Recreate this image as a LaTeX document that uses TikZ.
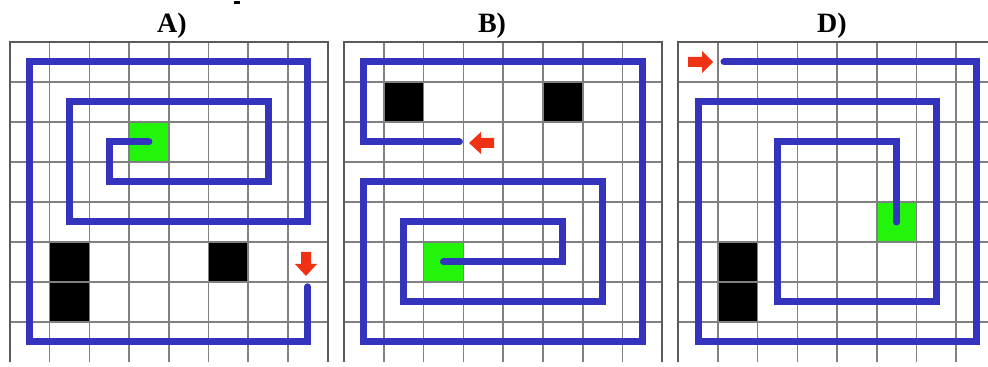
\documentclass[tikz,border=0pt]{standalone}
\usepackage{fontspec}
\setmainfont{Liberation Serif}
\definecolor{pathblue}{RGB}{51,51,190}
\definecolor{goalgreen}{RGB}{34,245,10}
\definecolor{arrowred}{RGB}{240,50,20}
\definecolor{gridgray}{RGB}{128,128,128}
\definecolor{edgegray}{RGB}{90,90,90}
\tikzset{
  gridline/.style={draw=gridgray, line width=0.75pt},
  edgeline/.style={draw=edgegray, line width=1pt},
  wall/.style={fill=black},
  goal/.style={fill=goalgreen},
  route/.style={draw=pathblue, line width=3.5pt, line cap=round, line join=miter},
  marker/.style={fill=arrowred},
  paneltitle/.style={font=\bfseries\fontsize{14pt}{14pt}\selectfont, inner sep=0pt, anchor=base},
}
\newcommand{\mazegrid}{%
  \foreach \i in {1,...,7} \draw[gridline] (\i,0) -- (\i,8);
  \foreach \j in {1,...,7} \draw[gridline] (0,\j) -- (8,\j);
  \draw[edgeline] (0,8) -- (0,0) -- (8,0) -- (8,8);
}
\begin{document}
\begin{tikzpicture}[x=0.5pt,y=-0.5pt]
\useasboundingbox (0,0) rectangle (988,367);
\clip (0,0) rectangle (988,367);
% titles
\node[paneltitle] (titleA) at (172,32.5) {A)};
\node[paneltitle] (titleB) at (492,32.5) {B)};
\node[paneltitle] (titleD) at (832,32.5) {D)};
\fill (234,1.5) rectangle (240,4.5);
% panel A
\begin{scope}[shift={(10,42)}, x=19.85pt, y=-20pt]
  \fill[wall] (1.02,5.02) rectangle (1.98,5.98);
  \fill[wall] (1.02,6.02) rectangle (1.98,6.98);
  \fill[wall] (5.02,5.02) rectangle (5.98,5.98);
  \fill[goal] (3,2) rectangle (4,3);
  \mazegrid
  \draw[route] (7.5,6.12) -- (7.5,7.5) -- (0.5,7.5) -- (0.5,0.5) -- (7.5,0.5) -- (7.5,4.5)
    -- (1.5,4.5) -- (1.5,1.5) -- (6.5,1.5) -- (6.5,3.5) -- (2.5,3.5) -- (2.5,2.5) -- (3.5,2.5);
\end{scope}
% panel B
\begin{scope}[shift={(344,42)}, x=19.9pt, y=-20pt]
  \fill[wall] (1.02,1.02) rectangle (1.98,1.98);
  \fill[wall] (5.02,1.02) rectangle (5.98,1.98);
  \fill[goal] (2,5) rectangle (3,6);
  \mazegrid
  \draw[route] (2.9,2.5) -- (0.5,2.5) -- (0.5,0.5) -- (7.5,0.5) -- (7.5,7.5) -- (0.5,7.5)
    -- (0.5,3.5) -- (6.5,3.5) -- (6.5,6.5) -- (1.5,6.5) -- (1.5,4.5) -- (5.5,4.5) -- (5.5,5.5) -- (2.5,5.5);
\end{scope}
% panel D
\begin{scope}[shift={(678.3,42)}, x=19.85pt, y=-20pt]
  \fill[wall] (1.02,5.02) rectangle (1.98,5.98);
  \fill[wall] (1.02,6.02) rectangle (1.98,6.98);
  \fill[goal] (5,4) rectangle (6,5);
  \mazegrid
  \draw[route] (1.15,0.5) -- (7.5,0.5) -- (7.5,7.5) -- (0.5,7.5) -- (0.5,1.5) -- (6.5,1.5)
    -- (6.5,6.5) -- (2.5,6.5) -- (2.5,2.5) -- (5.5,2.5) -- (5.5,4.5);
\end{scope}
% red arrows
\fill[marker] (301,252) -- (311,252) -- (311,264) -- (317,264) -- (306,276) -- (295,264) -- (301,264) -- cycle;
\fill[marker] (494,138) -- (494,148) -- (481,148) -- (481,154) -- (469,143) -- (481,132) -- (481,138) -- cycle;
\fill[marker] (688,57) -- (688,67) -- (702,67) -- (702,73) -- (713,62) -- (702,51) -- (702,57) -- cycle;
\end{tikzpicture}
\end{document}
